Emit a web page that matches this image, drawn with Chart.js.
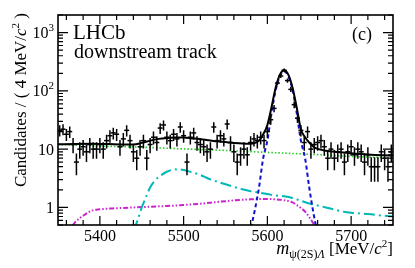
<!DOCTYPE html>
<html>
<head>
<meta charset="utf-8">
<script src="https://cdn.jsdelivr.net/npm/chart.js@4.4.1/dist/chart.umd.min.js"></script>
<style>
  html, body { margin: 0; padding: 0; background: #fff; }
  canvas { display: block; }
</style>
</head>
<body>
<canvas id="massChart" width="415" height="268"></canvas>
<script>
// Lambda_b -> psi(2S) Lambda mass fit, downstream tracks, log scale

// Histogram: bin centres (4 MeV bins) and candidate counts
const binCenters = [
  5352, 5356, 5360, 5364, 5368, 5372, 5376, 5380, 5384, 5388,
  5392, 5396, 5400, 5404, 5408, 5412, 5416, 5420, 5424, 5428,
  5432, 5436, 5440, 5444, 5448, 5452, 5456, 5460, 5464, 5468,
  5472, 5476, 5480, 5484, 5488, 5492, 5496, 5500, 5504, 5508,
  5512, 5516, 5520, 5524, 5528, 5532, 5536, 5540, 5544, 5548,
  5552, 5556, 5560, 5564, 5568, 5572, 5576, 5580, 5584, 5588,
  5592, 5596, 5600, 5604, 5608, 5612, 5616, 5620, 5624, 5628,
  5632, 5636, 5640, 5644, 5648, 5652, 5656, 5660, 5664, 5668,
  5672, 5676, 5680, 5684, 5688, 5692, 5696, 5700, 5704, 5708,
  5712, 5716, 5720, 5724, 5728, 5732, 5736, 5740, 5744, 5748
];
const candidates = [
  21, 22, 18, 20, 12, 6, 10, 11, 9, 12,
  10, 10, 12, 10, 14, 17, 19, 18, 11, 15,
  21, 14, 9, 7, 11, 14, 7, 12, 16, 13,
  23, 26, 16, 14, 18, 15, 24, 17, 6, 16,
  19, 13, 12, 11, 9, 10, 24, 14, 17, 15,
  27, 13, 9, 6, 8, 10, 8, 13, 15, 14,
  16, 14, 20, 32, 50, 136, 180, 226, 150, 106,
  58, 34, 21, 13, 20, 10, 12, 13, 14, 11,
  7, 10, 7, 9, 10, 6, 9, 11, 8, 10,
  9, 6, 8, 5, 5, 5, 9, 7, 5, 9
];

// Fit components
const combMass = [5350, 5400, 5450, 5500, 5550, 5600, 5650, 5700, 5750];
const combFit  = [12.0, 11.3, 10.8, 10.1, 9.5, 8.8, 8.2, 7.5, 7.1];

const partMass = [5440, 5445, 5450, 5455, 5460, 5465, 5470, 5480, 5490, 5500, 5510, 5520, 5530, 5540,
                  5550, 5560, 5570, 5580, 5590, 5600, 5610, 5620, 5630, 5640, 5650, 5660, 5670, 5680,
                  5690, 5700, 5720, 5740, 5750];
const partFit  = [0.4, 0.6, 1.0, 1.5, 2.2, 2.8, 3.3, 4.1, 4.5, 4.4, 4.0, 3.6, 3.1, 2.77,
                  2.5, 2.25, 2.05, 1.9, 1.8, 1.7, 1.6, 1.55, 1.45, 1.3, 1.17, 1.08, 1.0, 0.92,
                  0.85, 0.81, 0.77, 0.72, 0.70];

const reflMass = [5360, 5365, 5370, 5375, 5380, 5390, 5400, 5420, 5440, 5460, 5480, 5500, 5520, 5540,
                  5560, 5580, 5600, 5610, 5620, 5630, 5635, 5640, 5645, 5650, 5655, 5660, 5665];
const reflFit  = [0.3, 0.42, 0.55, 0.64, 0.72, 0.88, 0.93, 0.97, 1.0, 1.03, 1.06, 1.1, 1.16, 1.24,
                  1.32, 1.38, 1.4, 1.38, 1.33, 1.22, 1.1, 0.98, 0.85, 0.68, 0.53, 0.4, 0.3];

const sigMass = [5575, 5580, 5585, 5590, 5595, 5600, 5605, 5610, 5615, 5620,
                 5625, 5630, 5635, 5640, 5645, 5650, 5655, 5660, 5665];
const sigFit  = [0.2, 0.42, 0.9, 2.2, 7, 14, 42, 104, 179, 215,
                 179, 104, 42, 14, 7, 2.2, 0.8, 0.35, 0.15];

const totalMass = [5350, 5370, 5390, 5410, 5430, 5440, 5450, 5460, 5470, 5480, 5490, 5500, 5510, 5520,
                   5530, 5540, 5550, 5560, 5570, 5580, 5585, 5590, 5595, 5600, 5605, 5610, 5615, 5620,
                   5625, 5630, 5635, 5640, 5645, 5650, 5655, 5660, 5670, 5680, 5700, 5720, 5750];
const totalFit  = [12.1, 12.3, 12.4, 12.2, 12.0, 12.0, 12.8, 14.0, 15.0, 15.6, 15.9, 15.8, 15.3, 14.8,
                   14.2, 13.6, 13.2, 12.8, 12.5, 12.4, 12.8, 14, 18, 26, 53, 115, 190, 226,
                   190, 114, 52, 22, 16, 13, 11, 10.1, 9.4, 9.0, 8.5, 8.1, 7.7];

// Axis ticks
const xRange = [5350, 5750];
const yRange = [0.5, 2000];
const xMajorTicks = [5400, 5500, 5600, 5700];
const xTickLabels = ['5400', '5500', '5600', '5700'];
const yMajorTicks = [1, 10, 100, 1000];
const yTickLabels = [['1', ''], ['10', ''], ['10', '2'], ['10', '3']];

const SERIF = '"Liberation Serif", "DejaVu Serif", serif';

function pts(xs, ys) {
  return xs.map((m, i) => ({ x: m, y: ys[i] }));
}

// draw a list of text runs [{t, font, dy}] starting at x
function drawRuns(ctx, runs, x, y, align) {
  let total = 0;
  runs.forEach(r => { ctx.font = r.font; total += ctx.measureText(r.t).width; });
  let cx = align === 'right' ? x - total : (align === 'center' ? x - total / 2 : x);
  runs.forEach(r => {
    ctx.font = r.font;
    ctx.fillText(r.t, cx, y + (r.dy || 0));
    cx += ctx.measureText(r.t).width;
  });
}

const errorBars = {
  id: 'errorBars',
  afterDatasetsDraw(chart) {
    const { ctx, chartArea: a, scales: { x, y } } = chart;
    ctx.save();
    ctx.beginPath();
    ctx.rect(a.left, a.top, a.right - a.left, a.bottom - a.top);
    ctx.clip();
    ctx.beginPath();
    ctx.strokeStyle = '#000';
    ctx.lineWidth = 1.5;
    candidates.forEach((n, i) => {
      const px = x.getPixelForValue(binCenters[i]);
      const err = Math.sqrt(n);
      ctx.moveTo(px, y.getPixelForValue(n + err));
      ctx.lineTo(px, y.getPixelForValue(Math.max(n - err, 0.01)));
    });
    ctx.stroke();
    ctx.restore();
  }
};

const rootFrame = {
  id: 'rootFrame',
  afterDraw(chart) {
    const { ctx, chartArea: a, scales: { x, y } } = chart;
    ctx.save();
    ctx.strokeStyle = '#000';
    ctx.fillStyle = '#000';
    ctx.lineWidth = 1.6;
    ctx.strokeRect(a.left, a.top, a.right - a.left, a.bottom - a.top);

    // x ticks, top and bottom
    ctx.lineWidth = 1.2;
    ctx.beginPath();
    for (let m = 5360; m < xRange[1]; m += 20) {
      const px = x.getPixelForValue(m);
      const len = xMajorTicks.includes(m) ? 9 : 5;
      ctx.moveTo(px, a.bottom); ctx.lineTo(px, a.bottom - len);
      ctx.moveTo(px, a.top); ctx.lineTo(px, a.top + len);
    }
    // y ticks, left and right
    for (let d = 0.1; d < yRange[1]; d *= 10) {
      for (let k = 1; k <= 9; k++) {
        const v = d * k;
        if (v < yRange[0] || v > yRange[1]) continue;
        const py = y.getPixelForValue(v);
        const len = k === 1 ? 10 : 5;
        ctx.moveTo(a.left, py); ctx.lineTo(a.left + len, py);
        ctx.moveTo(a.right, py); ctx.lineTo(a.right - len, py);
      }
    }
    ctx.stroke();

    // tick labels
    ctx.textBaseline = 'alphabetic';
    ctx.font = '16px ' + SERIF;
    ctx.textAlign = 'center';
    xMajorTicks.forEach((m, i) => {
      ctx.fillText(xTickLabels[i], x.getPixelForValue(m), a.bottom + 16);
    });
    ctx.textAlign = 'left';
    yMajorTicks.forEach((v, i) => {
      const py = y.getPixelForValue(v) + 5.5;
      const [base, sup] = yTickLabels[i];
      const runs = [{ t: base, font: '16px ' + SERIF }];
      if (sup) runs.push({ t: sup, font: '11px ' + SERIF, dy: -7 });
      drawRuns(ctx, runs, 54, py, 'right');
    });

    // x title
    drawRuns(ctx, [
      { t: 'm', font: 'italic 18px ' + SERIF },
      { t: 'ψ(2S)', font: '12px ' + SERIF, dy: 4 },
      { t: 'Λ', font: 'italic 12px ' + SERIF, dy: 4 },
      { t: ' [MeV/', font: '17px ' + SERIF },
      { t: 'c', font: 'italic 17px ' + SERIF },
      { t: '2', font: '11px ' + SERIF, dy: -7 },
      { t: ']', font: '17px ' + SERIF }
    ], a.right, 254, 'right');

    // y title
    ctx.save();
    ctx.translate(26, a.top - 2);
    ctx.rotate(-Math.PI / 2);
    drawRuns(ctx, [
      { t: 'Candidates / ( 4 MeV/', font: '17px ' + SERIF },
      { t: 'c', font: 'italic 17px ' + SERIF },
      { t: '2', font: '11px ' + SERIF, dy: -7 },
      { t: ' )', font: '17px ' + SERIF }
    ], 0, 0, 'right');
    ctx.restore();

    // labels in the plot
    ctx.font = '21px ' + SERIF;
    ctx.fillText('LHCb', 73, 39);
    ctx.font = '20px ' + SERIF;
    ctx.fillText('downstream track', 74, 58);
    ctx.font = '18px ' + SERIF;
    ctx.fillText('(c)', 352, 40);
    ctx.restore();
  }
};

new Chart(document.getElementById('massChart'), {
  type: 'scatter',
  data: {
    datasets: [{
      label: 'Data',
      data: pts(binCenters, candidates),
      showLine: false,
      pointStyle: 'line',
      pointRadius: 2.5,
      borderColor: '#000',
      borderWidth: 1.5,
      order: 0
    }, {
      label: 'Total',
      data: pts(totalMass, totalFit),
      showLine: true,
      borderColor: '#000',
      borderWidth: 2,
      pointRadius: 0,
      cubicInterpolationMode: 'monotone',
      order: 1
    }, {
      label: 'Signal',
      data: pts(sigMass, sigFit),
      showLine: true,
      borderColor: '#1010d0',
      borderWidth: 2,
      borderDash: [4, 3],
      pointRadius: 0,
      cubicInterpolationMode: 'monotone',
      order: 2
    }, {
      label: 'Combinatorial',
      data: pts(combMass, combFit),
      showLine: true,
      borderColor: '#22cc22',
      borderWidth: 1.6,
      borderDash: [1.5, 2],
      pointRadius: 0,
      cubicInterpolationMode: 'monotone',
      order: 3
    }, {
      label: 'Partially reconstructed',
      data: pts(partMass, partFit),
      showLine: true,
      borderColor: '#00b8b8',
      borderWidth: 2,
      borderDash: [11, 4, 2, 4],
      pointRadius: 0,
      cubicInterpolationMode: 'monotone',
      order: 4
    }, {
      label: 'Reflection',
      data: pts(reflMass, reflFit),
      showLine: true,
      borderColor: '#cc22cc',
      borderWidth: 2,
      borderDash: [5, 2, 1.5, 2, 1.5, 2],
      pointRadius: 0,
      cubicInterpolationMode: 'monotone',
      order: 5
    }]
  },
  options: {
    responsive: false,
    animation: false,
    layout: { padding: { left: 58, right: 22, top: 15, bottom: 43 } },
    plugins: {
      legend: { display: false },
      tooltip: { enabled: false }
    },
    scales: {
      x: { type: 'linear', min: xRange[0], max: xRange[1], display: false },
      y: { type: 'logarithmic', min: yRange[0], max: yRange[1], display: false }
    }
  },
  plugins: [errorBars, rootFrame]
});
</script>
</body>
</html>
